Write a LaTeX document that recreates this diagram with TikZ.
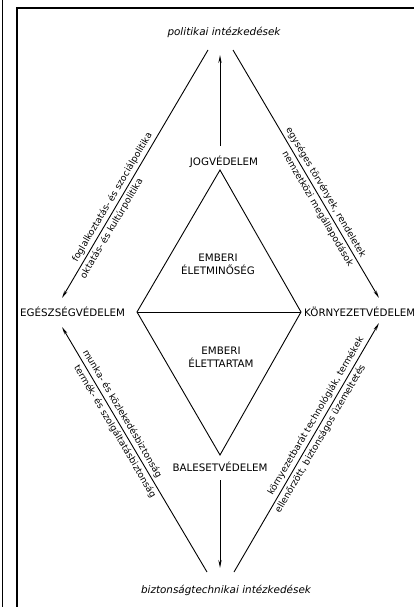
\documentclass[tikz,border=0pt]{standalone}
\usepackage{fontspec}
\setmainfont{DejaVu Sans}
\usetikzlibrary{arrows.meta}
\begin{document}
\begin{tikzpicture}[x=1pt,y=-1pt,
  every node/.style={inner sep=0pt},
  caps/.style={font=\fontsize{10.3}{13}\selectfont},
  side/.style={font=\fontsize{9.2}{10}\selectfont, inner sep=2.6pt},
  title/.style={font=\fontsize{10.4}{12}\selectfont\itshape},
  ln/.style={line width=0.9pt},
  arr/.style={line width=0.9pt, -{Stealth[length=8pt,width=3.2pt]}}]
\useasboundingbox (0,0) rectangle (414,607);
\fill[white] (0,0) rectangle (414,607);
% frame
\draw[line width=2.2pt] (17,607) -- (17,8) -- (414,8);
\draw[line width=1pt] (2.5,0) -- (2.5,607);
% text nodes
\node[title] (pol) at (224,32) {politikai intézkedések};
\node[title] (biz) at (226,590) {biztonságtechnikai intézkedések};
\node[caps] (jog) at (224,162) {JOGVÉDELEM};
\node[caps] (bal) at (220,467) {BALESETVÉDELEM};
\node[caps, anchor=west] (egesz) at (20,312) {EGÉSZSÉGVÉDELEM};
\node[caps, anchor=west] (korny) at (304,312) {KÖRNYEZETVÉDELEM};
\node[caps, align=center] (minoseg) at (218,264) {EMBERI\\ÉLETMINŐSÉG};
\node[caps, align=center] (tartam) at (221,357) {EMBERI\\ÉLETTARTAM};
% rhombus
\coordinate (ta) at (220,170);
\coordinate (bl) at (137,312);
\coordinate (br) at (301,312);
\coordinate (ba) at (220,455);
\draw[ln, line join=miter] (ta) -- (bl) -- (ba) -- (br) -- cycle;
\draw[ln] (bl) -- (br);
% connector end points
\coordinate (plt) at (208,50);
\coordinate (prt) at (233,50);
\coordinate (tul) at (62,298);
\coordinate (tur) at (379,298);
\coordinate (bll) at (207,572);
\coordinate (blr) at (234,572);
\coordinate (tll) at (62,327);
\coordinate (tlr) at (379,323);
\coordinate (vt1) at (220,146);
\coordinate (vt2) at (220,55);
\coordinate (vb1) at (220,480);
\coordinate (vb2) at (220,568);
% vertical arrows
\draw[arr] (vt1) -- (vt2);
\draw[arr] (vb1) -- (vb2);
% diagonal arrows with labels
\draw[arr] (plt) -- (tul)
  node[side, sloped, above, pos=0.61] {foglalkoztatás- és szociálpolitika}
  node[side, sloped, below, pos=0.705] {oktatás- és kultúrpolitika};
\draw[arr] (prt) -- (tur)
  node[side, sloped, above, pos=0.59] {egységes törvények, rendeletek}
  node[side, sloped, below, pos=0.625] {nemzetközi megállapodások};
\draw[arr] (bll) -- (tll)
  node[side, sloped, above, pos=0.63] {munka- és közlekedésbiztonság}
  node[side, sloped, below, pos=0.59] {termék- és szolgáltatásbiztonság};
\draw[arr] (blr) -- (tlr)
  node[side, sloped, above, pos=0.61] {környezetbarát technológiák, termékek}
  node[side, sloped, below, pos=0.55] {ellenőrzött, biztonságos üzemeltetés};
\end{tikzpicture}
\end{document}
